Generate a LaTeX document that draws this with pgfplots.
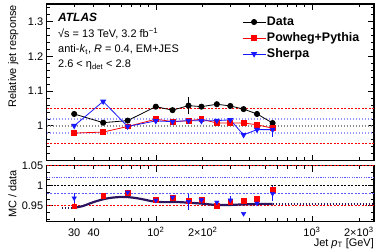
\documentclass[border=0pt]{standalone}
\usepackage{pgfplots}
\pgfplotsset{compat=1.18}
\usepackage{fontspec}
\setmainfont{Liberation Sans}
\definecolor{pwred}{RGB}{255,0,0}
\definecolor{shblue}{RGB}{25,25,255}
\definecolor{lav}{RGB}{150,150,255}
\definecolor{lblue}{RGB}{90,90,255}
\definecolor{curvec}{RGB}{45,20,95}
\definecolor{refgray}{RGB}{140,140,140}

\begin{document}
\begin{tikzpicture}[x=1bp,y=1bp]
\path[use as bounding box] (0,0) rectangle (390,251);
% ---------- top panel ----------
\begin{axis}[
  scale only axis, width=327.3bp,
  xmode=log, xmin=20, xmax=2500, log basis x=10,
  axis line style={line width=1.1bp, black},
  tick align=inside, xtick pos=both, ytick pos=both,
  major tick length=6bp, minor tick length=3.5bp,
  tick style={black, line width=0.6bp},
  xtick={100,1000},
  minor xtick={20,30,40,50,60,70,80,90,200,300,400,500,600,700,800,900,2000},
  xticklabels={},
  tick label style={font=\fontsize{11}{13}\selectfont},
  at={(46.7bp,90.4bp)}, anchor=south west, height=156.6bp,
  ymin=0.9, ymax=1.35,
  ytick={1,1.1,1.2,1.3}, yticklabels={1,1.1,1.2,1.3},
  minor ytick={0.92,0.94,0.96,0.98,1.02,1.04,1.06,1.08,1.12,1.14,1.16,1.18,1.22,1.24,1.26,1.28,1.32,1.34},
  ylabel={Relative jet response},
  ylabel style={at={(axis description cs:-0.102,0.9936)}, anchor=east, inner sep=0pt, font=\fontsize{11}{13}\selectfont},
  legend cell align=left,
  legend style={draw=none, fill=none, at={(axis description cs:0.5875,0.942)}, anchor=north west,
    font=\bfseries\fontsize{12.5}{14}\selectfont, row sep=2.5bp,
    nodes={inner sep=1bp, text height=9bp, text depth=2.5bp}},
  legend image code/.code={\draw[mark repeat=2,mark phase=2,#1] plot coordinates {(0bp,0bp) (11.5bp,0bp) (23bp,0bp)};},
]
\addplot[forget plot, pwred, line width=0.6bp, dash pattern=on 2bp off 1.5bp] coordinates {(20,1.05) (2500,1.05)};
\addplot[forget plot, pwred, line width=0.6bp, dash pattern=on 2bp off 1.5bp] coordinates {(20,0.95) (2500,0.95)};
\addplot[forget plot, lav, line width=1.6bp, dash pattern=on 1.5bp off 1.5bp] coordinates {(20,1.02) (2500,1.02)};
\addplot[forget plot, lav, line width=1.6bp, dash pattern=on 1.5bp off 1.5bp] coordinates {(20,0.98) (2500,0.98)};
\addplot[forget plot, refgray, line width=1.6bp, dash pattern=on 1.5bp off 1.5bp] coordinates {(20,1.0) (2500,1.0)};

\addplot[black, line width=0.8bp, mark=*, mark size=2.6bp,
  error bars/.cd, y dir=both, y explicit, error bar style={line width=0.8bp}, error mark=none]
  coordinates {
  (30,1.034) (46,1.009) (66,1.015) (100,1.055) (128,1.045)
  (162,1.058) +- (0,0.024)
  (196,1.055) (246,1.062) (300,1.057) (365,1.048) (445,1.034) (560,1.008) +- (0,0.006)};
\addlegendentry{Data}
\addplot[pwred, line width=0.8bp, mark=square*, mark size=2.4bp]
  coordinates {
  (30,0.979) (46,0.982) (66,0.998) (100,1.019) (128,1.012) (162,1.0144)
  (196,1.019) (246,1.008) (300,1.008) (365,1.008) (445,1.003) (560,0.993)};
\addlegendentry{Powheg+Pythia}
\addplot[shblue, line width=0.8bp, mark=triangle*, mark size=2.8bp, mark options={rotate=180},
  error bars/.cd, y dir=both, y explicit, error bar style={line width=0.8bp, shblue}, error mark=none]
  coordinates {
  (30,1.0) (46,1.07) (66,0.998) (100,1.014) (128,1.012) (162,1.015)
  (196,1.014) (246,1.015) (300,1.017) (365,0.974) (445,0.989)
  (560,0.989) += (0,0.014) -= (0,0.02)};
\addlegendentry{Sherpa}

\node[anchor=base west, inner sep=0pt, font=\bfseries\itshape\fontsize{12}{14}\selectfont]
  at (axis description cs:0.0345,0.8885) {ATLAS};
\node[anchor=base west, inner sep=0pt, font=\fontsize{11}{13}\selectfont]
  at (axis description cs:0.0345,0.7850) {√s = 13 TeV, 3.2 fb\textsuperscript{−1}};
\node[anchor=base west, inner sep=0pt, font=\fontsize{11}{13}\selectfont]
  at (axis description cs:0.0345,0.6877) {anti-\textit{k}\textsubscript{t}, \textit{R} = 0.4, EM+JES};
\node[anchor=base west, inner sep=0pt, font=\fontsize{11}{13}\selectfont]
  at (axis description cs:0.0345,0.5951) {2.6 < η\textsubscript{det} < 2.8};
\end{axis}

% ---------- bottom panel ----------
\begin{axis}[
  scale only axis, width=327.3bp,
  xmode=log, xmin=20, xmax=2500, log basis x=10,
  axis line style={line width=1.1bp, black},
  tick align=inside, xtick pos=both, ytick pos=both,
  major tick length=6bp, minor tick length=3.5bp,
  tick style={black, line width=0.6bp},
  xtick={100,1000},
  minor xtick={20,30,40,50,60,70,80,90,200,300,400,500,600,700,800,900,2000},
  xticklabels={10\textsuperscript{2},10\textsuperscript{3}},
  extra x ticks={30,40,200,2000},
  extra x tick labels={30,40,2×10\textsuperscript{2},2×10\textsuperscript{3}},
  extra x tick style={major tick length=0bp},
  tick label style={font=\fontsize{11}{13}\selectfont},
  xticklabel style={text height=8bp, inner sep=0bp, yshift=-6.3bp},
  at={(46.7bp,29.3bp)}, anchor=south west, height=56bp,
  ymin=0.91, ymax=1.05,
  ytick={0.95,1,1.05}, yticklabels={0.95,1,1.05},
  minor ytick={0.9167,0.9333,0.9667,0.9833,1.0167,1.0333},
  ylabel={MC / data},
  ylabel style={at={(axis description cs:-0.1045,0.5)}, anchor=center, inner sep=0pt, font=\fontsize{11}{13}\selectfont},
  xlabel={Jet \textit{p}\textsubscript{T} [GeV]},
  xlabel style={at={(axis description cs:1,0)}, anchor=base east, inner sep=0pt, yshift=-24.6bp, font=\fontsize{11}{13}\selectfont},
]
\addplot[pwred, line width=0.6bp, dash pattern=on 2bp off 1.5bp] coordinates {(20,1.05) (2500,1.05)};
\addplot[pwred, line width=0.6bp, dash pattern=on 2bp off 1.5bp] coordinates {(20,0.95) (2500,0.95)};
\addplot[lblue, line width=0.8bp, dash pattern=on 1.2bp off 1.2bp] coordinates {(20,1.02) (2500,1.02)};
\addplot[lblue, line width=0.8bp, dash pattern=on 2bp off 1.5bp] coordinates {(20,0.98) (2500,0.98)};
\addplot[black, line width=0.6bp, dash pattern=on 2bp off 1.5bp] coordinates {(20,1.0) (2500,1.0)};

\addplot[curvec, line width=2.2bp, dash pattern=on 1.5bp off 1.5bp] coordinates {(25,0.945) (30,0.945)};
\addplot[curvec, line width=2.2bp, dash pattern=on 1.5bp off 1.5bp] coordinates {(560,0.954) (2500,0.954)};
\addplot[curvec, line width=2.2bp, smooth] coordinates {
  (30,0.945) (34,0.949) (38,0.956) (43,0.963) (50,0.969) (58,0.9715) (66,0.9715)
  (75,0.969) (85,0.965) (95,0.961) (110,0.959) (140,0.959) (170,0.957) (200,0.955)
  (240,0.952) (280,0.9515) (350,0.953) (450,0.954) (560,0.954)};

\addplot[pwred, only marks, mark=square*, mark size=2.4bp,
  error bars/.cd, y dir=both, y explicit, error bar style={line width=0.8bp, pwred}, error mark=none]
  coordinates {
  (30,0.949) +- (0,0.008) (46,0.975) +- (0,0.006) (66,0.9835) (100,0.966) (128,0.971) (162,0.962)
  (196,0.966) (246,0.95) (300,0.96) (365,0.9625) (445,0.9675) (560,0.989) +- (0,0.008)};
\addplot[shblue, only marks, mark=triangle*, mark size=2.6bp, mark options={rotate=180},
  error bars/.cd, y dir=both, y explicit, error bar style={line width=0.8bp, shblue}, error mark=none]
  coordinates {
  (30,0.969) +- (0,0.012) (66,0.9835) (100,0.9635) +- (0,0.005) (128,0.971) (162,0.96) +- (0,0.02)
  (196,0.9643) (246,0.9585) (300,0.964) +- (0,0.01) (365,0.93) (445,0.956) (560,0.98) +- (0,0.018)};
\end{axis}
\end{tikzpicture}
\end{document}
